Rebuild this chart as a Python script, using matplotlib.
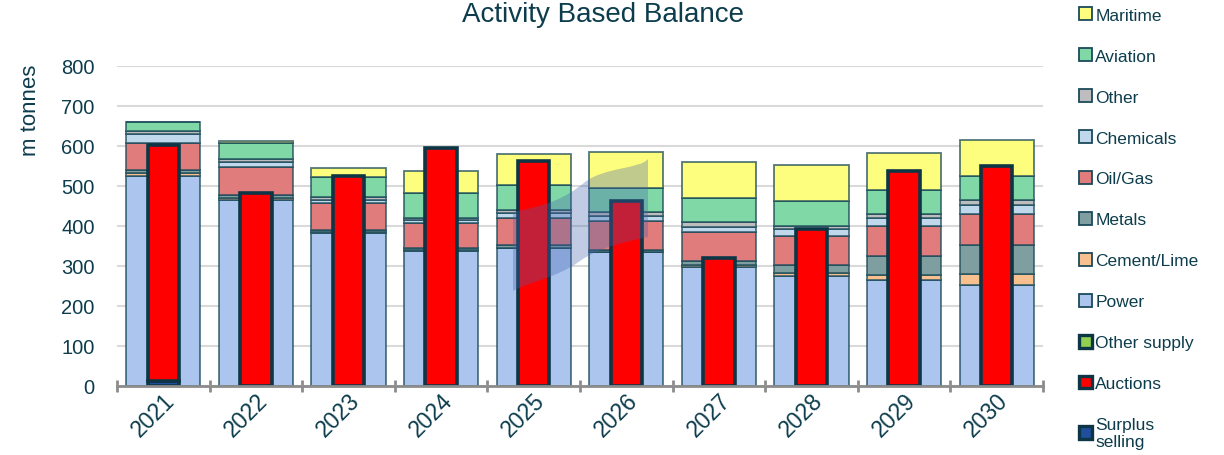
import numpy as np
import matplotlib
matplotlib.use("Agg")
import matplotlib.pyplot as plt
from matplotlib.patches import Patch, PathPatch
from matplotlib.path import Path
from matplotlib.transforms import ScaledTranslation

plt.rcParams['font.family'] = ['Liberation Sans', 'DejaVu Sans']

years = ['2021', '2022', '2023', '2024', '2025', '2026', '2027', '2028', '2029', '2030']

# demand side (stacked, bottom to top)
power     = [526, 465, 382, 338, 344, 334, 298, 276, 266, 253]
cement    = [6, 4, 3, 2, 1, 1, 4, 6, 12, 27]
metals    = [8, 9, 6, 5, 7, 5, 11, 20, 48, 72]
oil_gas   = [68, 70, 66, 62, 68, 73, 73, 74, 75, 78]
chemicals = [21, 11, 8, 7, 12, 13, 12, 17, 20, 23]
other     = [9, 8, 7, 7, 8, 8, 11, 8, 8, 12]
aviation  = [23, 41, 50, 61, 62, 61, 61, 62, 62, 61]
maritime  = [0, 4, 23, 55, 78, 91, 91, 90, 91, 90]

# supply side (stacked, bottom to top)
surplus_selling = [13, 0, 0, 0, 0, 0, 0, 0, 0, 0]
auctions        = [590, 482, 526, 594, 563, 462, 320, 392, 537, 549]
other_supply    = [0, 0, 0, 0, 0, 0, 0, 0, 0, 0]

txt = '#0d3d4d'
edge = '#1b4a5a'

demand = [
    ('Power', power, '#abc5ef'),
    ('Cement/Lime', cement, '#f7c08e'),
    ('Metals', metals, '#7f9ea0'),
    ('Oil/Gas', oil_gas, '#e07c7c'),
    ('Chemicals', chemicals, '#bfd8ec'),
    ('Other', other, '#bdbdbd'),
    ('Aviation', aviation, '#80d8a6'),
    ('Maritime', maritime, '#fdfd7e'),
]
supply = [
    ('Surplus\nselling', surplus_selling, '#1f4e9c'),
    ('Auctions', auctions, '#ff0000'),
    ('Other supply', other_supply, '#92d050'),
]

fig = plt.figure(figsize=(12.24, 4.56), dpi=100)
ax = fig.add_axes([117/1224, 1 - 387/456, (1043 - 117)/1224, (387 - 67)/456])

x = np.arange(len(years))
bottom = np.zeros(len(years))
for name, vals, col in demand:
    v = np.array(vals, dtype=float)
    ax.bar(x, v, 0.8, bottom=bottom, color=col, edgecolor=(0.1, 0.29, 0.35, 0.75),
           linewidth=1.3, zorder=2)
    bottom += v

bottom = np.zeros(len(years))
for name, vals, col in supply:
    v = np.array(vals, dtype=float)
    m = v > 0
    ax.bar(x[m], v[m], 0.34, bottom=bottom[m], color=col, edgecolor='#0c3545',
           linewidth=2.6, zorder=3)
    bottom += v

ax.set_xlim(-0.5, len(years) - 0.5)
ax.set_ylim(0, 800)
ax.set_yticks(np.arange(0, 801, 100))
ax.yaxis.grid(True, color='#d9d9d9', linewidth=1.5, zorder=0)
ax.set_axisbelow(True)
for s in ['top', 'right', 'left']:
    ax.spines[s].set_visible(False)
ax.spines['bottom'].set_color('#8c8c8c')
ax.spines['bottom'].set_linewidth(2)
ax.spines['bottom'].set_zorder(4)

ax.set_xticks(np.arange(-0.5, len(years)), minor=False)
ax.set_xticklabels([])
ax.set_xticks(x, minor=True)
ax.set_xticklabels(years, minor=True, rotation=45, fontsize=16.5, color=txt)
ax.tick_params(axis='x', which='major', direction='inout', length=9, width=2, color='#8c8c8c')
ax.tick_params(axis='x', which='minor', length=0, pad=2)
ax.tick_params(axis='y', length=0, labelsize=14.5, labelcolor=txt, pad=16)
shift = ScaledTranslation(-10/100, 0, fig.dpi_scale_trans)
for lab in ax.get_xticklabels(minor=True):
    lab.set_transform(lab.get_transform() + shift)

fig.text(603/1224, 1 - 15/456, 'Activity Based Balance', ha='center', va='center',
         fontsize=20, color=txt)
fig.text(30/1224, 1 - 110/456, 'm tonnes', ha='center', va='center', rotation=90,
         fontsize=16, color=txt)

# faint watermark logo
W, H = 1224.0, 456.0
def fp(px, py):
    return (px / W, 1 - py / H)
verts = [fp(513, 213), fp(545, 207), fp(565, 200), fp(585, 183),
         fp(605, 168), fp(640, 170), fp(648, 160),
         fp(648, 238),
         fp(625, 243), fp(600, 248), fp(580, 262),
         fp(555, 280), fp(530, 282), fp(513, 292),
         fp(513, 213)]
codes = [Path.MOVETO, Path.CURVE4, Path.CURVE4, Path.CURVE4,
         Path.CURVE4, Path.CURVE4, Path.CURVE4,
         Path.LINETO,
         Path.CURVE4, Path.CURVE4, Path.CURVE4,
         Path.CURVE4, Path.CURVE4, Path.CURVE4,
         Path.CLOSEPOLY]
logo = PathPatch(Path(verts, codes), facecolor=(0.27, 0.39, 0.67, 0.33), edgecolor='none',
                 transform=fig.transFigure, zorder=10)
fig.patches.append(logo)

handles = []
labels = []
for name, vals, col in demand[::-1]:
    handles.append(Patch(facecolor=col, edgecolor=edge, linewidth=1.3))
    labels.append(name)
for name, vals, col in supply[::-1]:
    handles.append(Patch(facecolor=col, edgecolor='#0c3545', linewidth=2.4))
    labels.append(name)
leg = fig.legend(handles, labels, loc='upper left', bbox_to_anchor=(1072/1224, 0.997),
                 frameon=False, fontsize=12.5, labelspacing=1.47, handlelength=0.75,
                 handleheight=0.75, handletextpad=0.2, borderaxespad=0)
for t in leg.get_texts():
    t.set_color(txt)

fig.savefig('out.png', dpi=100)
